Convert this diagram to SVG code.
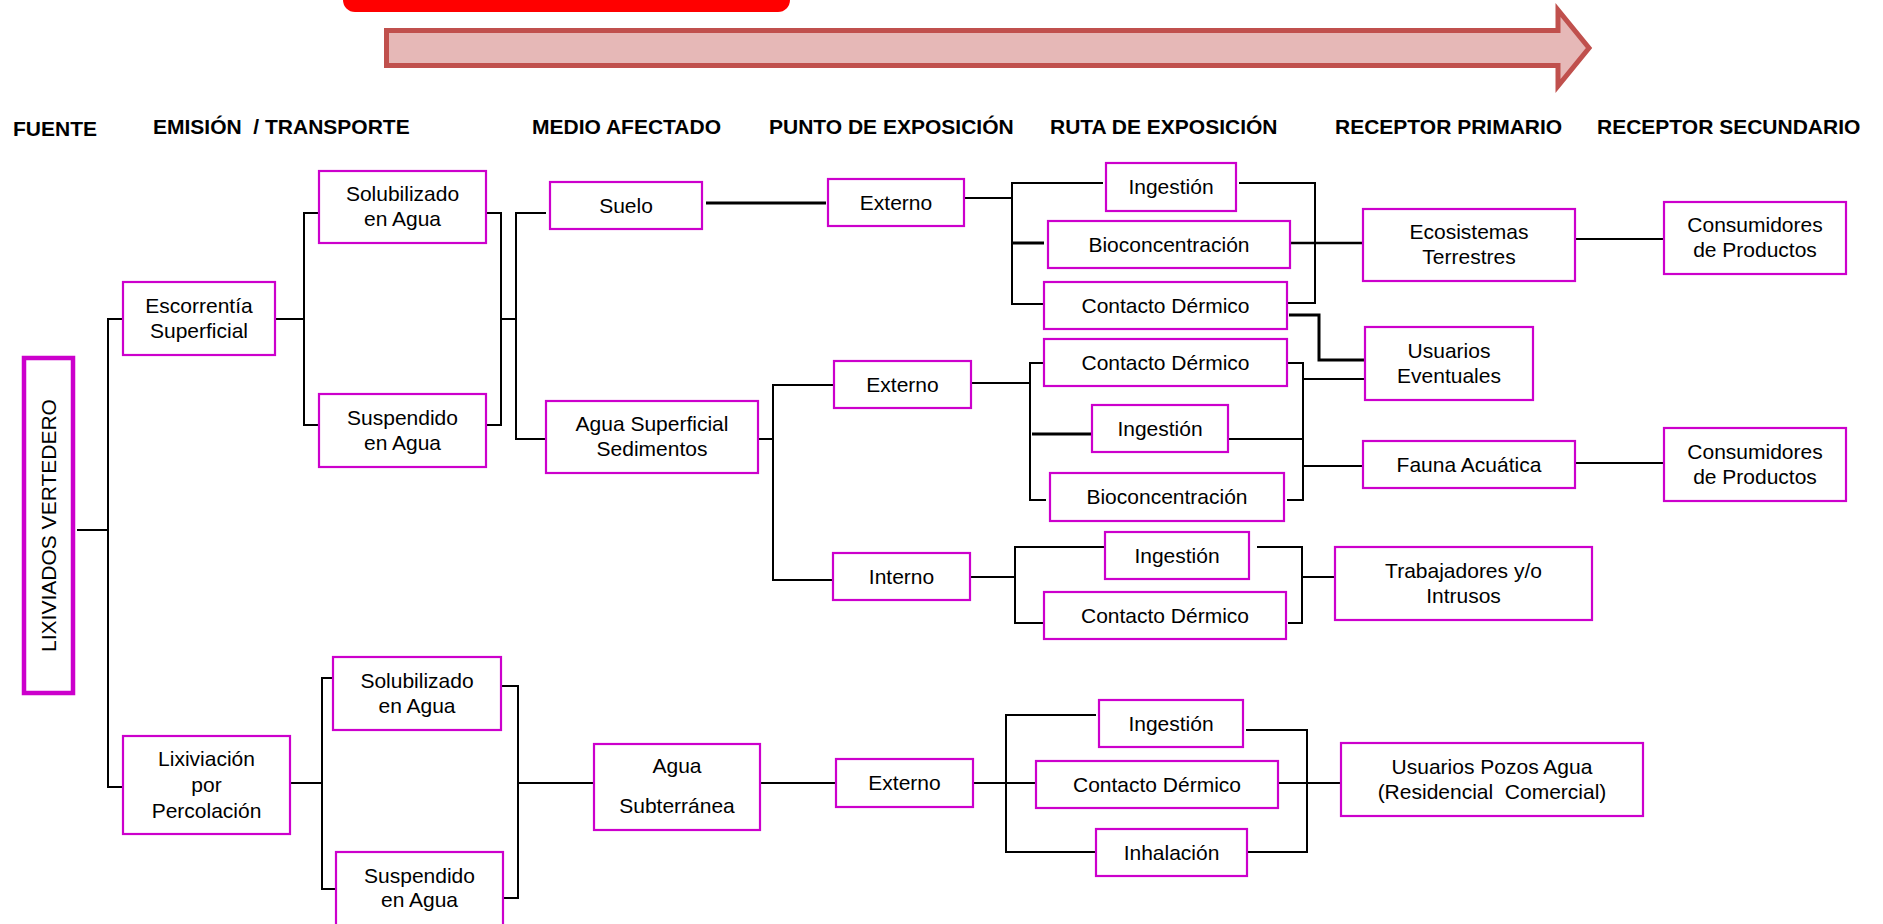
<svg xmlns="http://www.w3.org/2000/svg" width="1883" height="924" viewBox="0 0 1883 924">
  <style>
    .box { fill: #fff; stroke: #CC00CC; stroke-width: 2.2; }
    .t { font-family: "Liberation Sans", Arial, sans-serif; font-size: 21px; fill: #000; text-anchor: middle; white-space: pre; }
    .h { font-family: "Liberation Sans", Arial, sans-serif; font-size: 21px; font-weight: bold; fill: #000; white-space: pre; }
    .ln { fill: none; stroke: #000; stroke-width: 2; }
    .mid { stroke-width: 2.5; }
    .thick { stroke-width: 3; }
  </style>
  <rect width="1883" height="924" fill="#fff"/>

  <!-- banner and flow arrow -->
  <g id="banner">
    <rect x="343" y="-20" width="447" height="32" rx="12" fill="#FF0000"/>
  </g>
  <g id="flow-arrow">
    <polygon points="386.5,30.5 1558,30.5 1558,10 1589,48 1558,86 1558,65.5 386.5,65.5" fill="#E6B8B7" stroke="#C0504D" stroke-width="5" stroke-linejoin="miter"/>
  </g>

  <!-- column headers -->
  <g id="headers">
    <text class="h" x="13" y="136">FUENTE</text>
    <text class="h" x="153" y="134">EMISIÓN  / TRANSPORTE</text>
    <text class="h" x="532" y="134">MEDIO AFECTADO</text>
    <text class="h" x="769" y="134">PUNTO DE EXPOSICIÓN</text>
    <text class="h" x="1050" y="134">RUTA DE EXPOSICIÓN</text>
    <text class="h" x="1335" y="134">RECEPTOR PRIMARIO</text>
    <text class="h" x="1597" y="134">RECEPTOR SECUNDARIO</text>
  </g>

  <!-- connectors -->
  <g id="connectors" class="ln">
    <path d="M77,530 H108"/>
    <path d="M123,319 H108 V787 H123"/>
    <!-- surface runoff branch -->
    <path d="M275,319 H304"/>
    <path d="M319,213 H304 V425 H319"/>
    <path d="M486,213 H501 V425 H486"/>
    <path d="M501,319 H516"/>
    <path d="M546,213 H516 V439 H546"/>
    <path class="thick" d="M706,203 H826"/>
    <path d="M964,198 H1012"/>
    <path d="M1103,183 H1012 V304 H1044"/>
    <path class="thick" d="M1012,243 H1044"/>
    <path d="M1239,183 H1315 V303 H1287"/>
    <path class="mid" d="M1290,243 H1363"/>
    <path class="thick" d="M1289,315 H1319 V360 H1365"/>
    <path d="M1575,239 H1664"/>
    <path d="M758,439 H773"/>
    <path d="M834,385 H773 V580 H833"/>
    <path d="M971,383 H1030"/>
    <path d="M1045,363 H1030 V500 H1046"/>
    <path class="thick" d="M1032,434 H1092"/>
    <path d="M1287,363 H1303 V500 H1287"/>
    <path d="M1228,439 H1303"/>
    <path d="M1303,379 H1365"/>
    <path d="M1303,466 H1363"/>
    <path d="M1575,463 H1664"/>
    <path d="M970,577 H1015"/>
    <path d="M1105,547 H1015 V623 H1044"/>
    <path d="M1257,547 H1302 V623 H1288"/>
    <path d="M1302,577 H1335"/>
    <!-- percolation branch -->
    <path d="M290,783 H322"/>
    <path d="M333,678 H322 V889 H336"/>
    <path d="M501,686 H518 V898 H503"/>
    <path d="M518,783 H594"/>
    <path d="M760,783 H836"/>
    <path d="M973,783 H1006"/>
    <path d="M1096,715 H1006 V852 H1096"/>
    <path d="M1006,783 H1036"/>
    <path d="M1246,730 H1307 V852 H1247"/>
    <path d="M1278,783 H1341"/>
  </g>

  <!-- source -->
  <g id="lixiviados">
    <rect x="24" y="358" width="49" height="335" fill="#fff" stroke="#CC00CC" stroke-width="4.5"/>
    <text class="t" transform="translate(56,525.5) rotate(-90)">LIXIVIADOS VERTEDERO</text>
  </g>

  <!-- emission / transport -->
  <g id="escorrentia">
    <rect class="box" x="123" y="282" width="152" height="73"/>
    <text class="t" x="199" y="312.5">Escorrentía</text>
    <text class="t" x="199" y="337.5">Superficial</text>
  </g>
  <g id="solubilizado-1">
    <rect class="box" x="319" y="171" width="167" height="72"/>
    <text class="t" x="402.5" y="201">Solubilizado</text>
    <text class="t" x="402.5" y="226">en Agua</text>
  </g>
  <g id="suspendido-1">
    <rect class="box" x="319" y="394" width="167" height="73"/>
    <text class="t" x="402.5" y="424.5">Suspendido</text>
    <text class="t" x="402.5" y="449.5">en Agua</text>
  </g>
  <g id="lixiviacion">
    <rect class="box" x="123" y="736" width="167" height="98"/>
    <text class="t" x="206.5" y="766">Lixiviación</text>
    <text class="t" x="206.5" y="792">por</text>
    <text class="t" x="206.5" y="818">Percolación</text>
  </g>
  <g id="solubilizado-2">
    <rect class="box" x="333" y="657" width="168" height="73"/>
    <text class="t" x="417" y="687.5">Solubilizado</text>
    <text class="t" x="417" y="712.5">en Agua</text>
  </g>
  <g id="suspendido-2">
    <rect class="box" x="336" y="852" width="167" height="76"/>
    <text class="t" x="419.5" y="883">Suspendido</text>
    <text class="t" x="419.5" y="907">en Agua</text>
  </g>

  <!-- affected media -->
  <g id="suelo">
    <rect class="box" x="550" y="182" width="152" height="47"/>
    <text class="t" x="626" y="212.5">Suelo</text>
  </g>
  <g id="agua-superficial">
    <rect class="box" x="546" y="401" width="212" height="72"/>
    <text class="t" x="652" y="431">Agua Superficial</text>
    <text class="t" x="652" y="456">Sedimentos</text>
  </g>
  <g id="agua-subterranea">
    <rect class="box" x="594" y="744" width="166" height="86"/>
    <text class="t" x="677" y="773">Agua</text>
    <text class="t" x="677" y="813">Subterránea</text>
  </g>

  <!-- exposure points -->
  <g id="externo-1">
    <rect class="box" x="828" y="179" width="136" height="47"/>
    <text class="t" x="896" y="209.5">Externo</text>
  </g>
  <g id="externo-2">
    <rect class="box" x="834" y="361" width="137" height="47"/>
    <text class="t" x="902.5" y="391.5">Externo</text>
  </g>
  <g id="interno">
    <rect class="box" x="833" y="553" width="137" height="47"/>
    <text class="t" x="901.5" y="583.5">Interno</text>
  </g>
  <g id="externo-3">
    <rect class="box" x="836" y="759" width="137" height="48"/>
    <text class="t" x="904.5" y="790">Externo</text>
  </g>

  <!-- exposure routes -->
  <g id="ingestion-1">
    <rect class="box" x="1106" y="163" width="130" height="48"/>
    <text class="t" x="1171" y="194">Ingestión</text>
  </g>
  <g id="bioconcentracion-1">
    <rect class="box" x="1048" y="221" width="242" height="47"/>
    <text class="t" x="1169" y="251.5">Bioconcentración</text>
  </g>
  <g id="contacto-1">
    <rect class="box" x="1044" y="282" width="243" height="47"/>
    <text class="t" x="1165.5" y="312.5">Contacto Dérmico</text>
  </g>
  <g id="contacto-2">
    <rect class="box" x="1044" y="339" width="243" height="47"/>
    <text class="t" x="1165.5" y="369.5">Contacto Dérmico</text>
  </g>
  <g id="ingestion-2">
    <rect class="box" x="1092" y="405" width="136" height="47"/>
    <text class="t" x="1160" y="435.5">Ingestión</text>
  </g>
  <g id="bioconcentracion-2">
    <rect class="box" x="1050" y="473" width="234" height="48"/>
    <text class="t" x="1167" y="504">Bioconcentración</text>
  </g>
  <g id="ingestion-4">
    <rect class="box" x="1105" y="532" width="144" height="47"/>
    <text class="t" x="1177" y="562.5">Ingestión</text>
  </g>
  <g id="contacto-4">
    <rect class="box" x="1044" y="592" width="242" height="47"/>
    <text class="t" x="1165" y="622.5">Contacto Dérmico</text>
  </g>
  <g id="ingestion-3">
    <rect class="box" x="1099" y="700" width="144" height="47"/>
    <text class="t" x="1171" y="730.5">Ingestión</text>
  </g>
  <g id="contacto-3">
    <rect class="box" x="1036" y="761" width="242" height="47"/>
    <text class="t" x="1157" y="791.5">Contacto Dérmico</text>
  </g>
  <g id="inhalacion">
    <rect class="box" x="1096" y="829" width="151" height="47"/>
    <text class="t" x="1171.5" y="859.5">Inhalación</text>
  </g>

  <!-- primary receptors -->
  <g id="ecosistemas">
    <rect class="box" x="1363" y="209" width="212" height="72"/>
    <text class="t" x="1469" y="239">Ecosistemas</text>
    <text class="t" x="1469" y="264">Terrestres</text>
  </g>
  <g id="usuarios-eventuales">
    <rect class="box" x="1365" y="327" width="168" height="73"/>
    <text class="t" x="1449" y="357.5">Usuarios</text>
    <text class="t" x="1449" y="382.5">Eventuales</text>
  </g>
  <g id="fauna">
    <rect class="box" x="1363" y="441" width="212" height="47"/>
    <text class="t" x="1469" y="471.5">Fauna Acuática</text>
  </g>
  <g id="trabajadores">
    <rect class="box" x="1335" y="547" width="257" height="73"/>
    <text class="t" x="1463.5" y="577.5">Trabajadores y/o</text>
    <text class="t" x="1463.5" y="602.5">Intrusos</text>
  </g>
  <g id="pozos">
    <rect class="box" x="1341" y="743" width="302" height="73"/>
    <text class="t" x="1492" y="773.5">Usuarios Pozos Agua</text>
    <text class="t" x="1492" y="798.5">(Residencial  Comercial)</text>
  </g>

  <!-- secondary receptors -->
  <g id="consumidores-1">
    <rect class="box" x="1664" y="202" width="182" height="72"/>
    <text class="t" x="1755" y="232">Consumidores</text>
    <text class="t" x="1755" y="257">de Productos</text>
  </g>
  <g id="consumidores-2">
    <rect class="box" x="1664" y="428" width="182" height="73"/>
    <text class="t" x="1755" y="458.5">Consumidores</text>
    <text class="t" x="1755" y="483.5">de Productos</text>
  </g>
</svg>
